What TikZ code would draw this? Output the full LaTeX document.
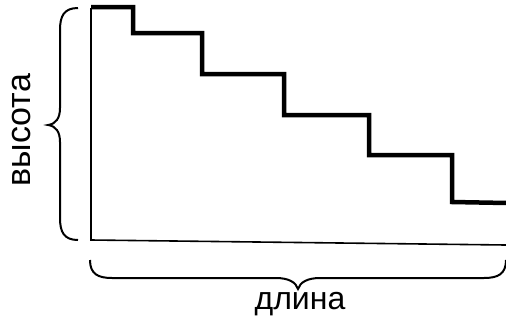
\documentclass[tikz,border=0pt]{standalone}
\usepackage{fontspec}
\setmainfont{Liberation Sans}
\begin{document}
\begin{tikzpicture}[x=1pt,y=-1pt,
  stair/.style={line width=4.5pt,line join=miter},
  axis/.style={line width=1.6pt},
  bracestyle/.style={line width=2pt},
  lbl/.style={font=\fontsize{32}{38}\selectfont}]
\useasboundingbox (0,0) rectangle (506,325);
\coordinate (O) at (91,240);
\coordinate (T) at (91,8);
\coordinate (R) at (506,245);
\draw[axis] (T) -- (O) -- (R);
\draw[stair] (91,7) -- (133,7) -- (133,33) -- (202,33) -- (202,74) -- (284,74) -- (284,115) -- (369,115) -- (369,155) -- (452,155) -- (452,202) -- (507,203);
\coordinate (lb1) at (78,8);
\coordinate (lb2) at (78,240);
\coordinate (lbt) at (48,125);
\draw[bracestyle] (lb1) .. controls (64,8) and (60,16) .. (60,30) -- (60,108)
  .. controls (60,118) and (56,124) .. (lbt)
  .. controls (56,126) and (60,132) .. (60,142) -- (60,218)
  .. controls (60,232) and (64,240) .. (lb2);
\coordinate (bb1) at (90,260);
\coordinate (bb2) at (506,260);
\coordinate (bbt) at (298,289);
\draw[bracestyle] (bb1) .. controls (90,274) and (98,278) .. (112,278) -- (276,278)
  .. controls (288,278) and (296,282) .. (bbt)
  .. controls (300,282) and (308,278) .. (320,278) -- (484,278)
  .. controls (498,278) and (506,274) .. (bb2);
\node[lbl] (len) at (300,304) {длина};
\node[lbl,rotate=90,font=\fontsize{34}{40}\selectfont] (hgt) at (22,130) {высота};
\end{tikzpicture}
\end{document}
